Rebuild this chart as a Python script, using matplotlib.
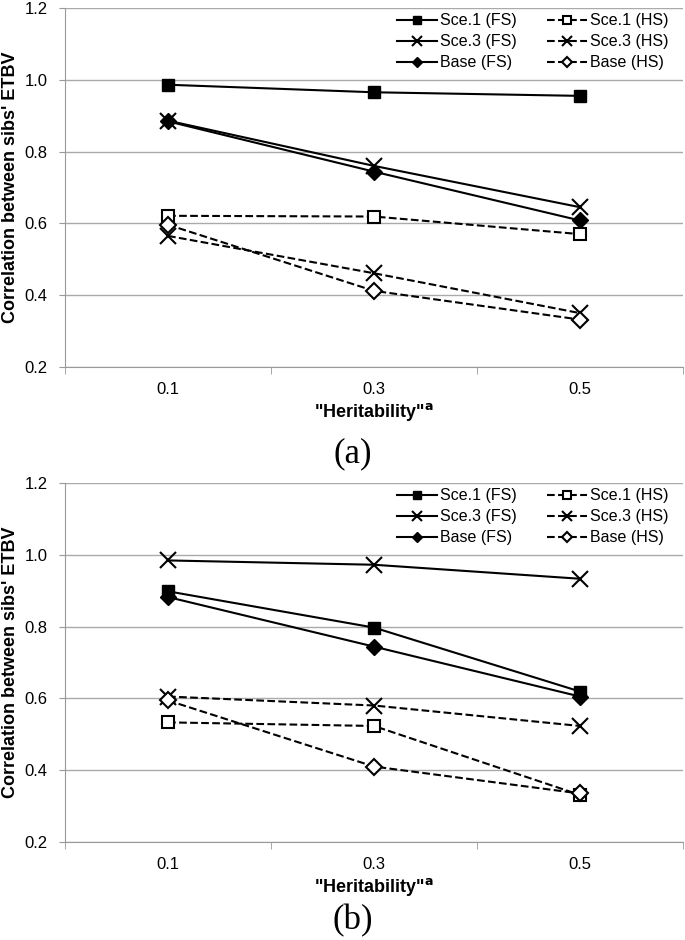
import numpy as np
import matplotlib
matplotlib.use("Agg")
import matplotlib.pyplot as plt

plt.rcParams['font.family'] = ['Liberation Sans', 'DejaVu Sans']

# heritability categories
herit = ['0.1', '0.3', '0.5']

# panel (a)
a_sce1_fs = [0.986, 0.965, 0.955]
a_sce3_fs = [0.886, 0.760, 0.645]
a_base_fs = [0.884, 0.744, 0.608]
a_sce1_hs = [0.621, 0.619, 0.570]
a_sce3_hs = [0.565, 0.461, 0.350]
a_base_hs = [0.596, 0.412, 0.332]

# panel (b)
b_sce1_fs = [0.898, 0.797, 0.619]
b_sce3_fs = [0.984, 0.972, 0.933]
b_base_fs = [0.882, 0.744, 0.605]
b_sce1_hs = [0.533, 0.523, 0.331]
b_sce3_hs = [0.605, 0.580, 0.523]
b_base_hs = [0.594, 0.410, 0.335]

labels = ['Sce.1 (FS)', 'Sce.3 (FS)', 'Base (FS)', 'Sce.1 (HS)', 'Sce.3 (HS)', 'Base (HS)']


def draw(ax, s1f, s1h, s3f, s3h, bf, bh):
    x = np.arange(len(herit))
    # legend is filled column by column, so FS series first then HS
    ax.plot(x, s1f, '-', color='black', lw=1.5, marker='s', ms=9, mfc='black', label=labels[0], zorder=3)
    ax.plot(x, s3f, '-', color='black', lw=1.5, marker='x', ms=12, mew=1.5, label=labels[1], zorder=3)
    ax.plot(x, bf, '-', color='black', lw=1.5, marker='D', ms=8, mfc='black', label=labels[2], zorder=3)
    ax.plot(x, s1h, '--', color='black', lw=1.5, marker='s', ms=9, mfc='white', mew=1.5, label=labels[3], zorder=3)
    ax.plot(x, s3h, '--', color='black', lw=1.5, marker='x', ms=12, mew=1.5, label=labels[4], zorder=3)
    ax.plot(x, bh, '--', color='black', lw=1.5, marker='D', ms=8, mfc='white', mew=1.5, label=labels[5], zorder=3)

    ax.set_xlim(-0.5, 2.5)
    ax.set_ylim(0.2, 1.2)
    yt = np.arange(0.2, 1.21, 0.2)
    ax.set_yticks(yt)
    ax.set_yticklabels(['%.1f' % v for v in yt], fontsize=12)
    ax.set_xticks(x)
    ax.set_xticklabels(herit, fontsize=12)
    ax.set_xticks([-0.5, 0.5, 1.5, 2.5], minor=True)
    ax.tick_params(axis='x', which='major', length=0, pad=11)
    ax.tick_params(axis='x', which='minor', length=5, color='#999999', direction='out')
    ax.tick_params(axis='y', length=4.5, color='#999999', pad=8)
    ax.yaxis.grid(True, color='#aaaaaa', lw=1)
    ax.set_axisbelow(True)
    for s in ['top', 'right']:
        ax.spines[s].set_visible(False)
    for s in ['left', 'bottom']:
        ax.spines[s].set_color('#999999')
    ax.set_ylabel("Correlation between sibs' ETBV", fontsize=13, fontweight='bold')
    ax.yaxis.set_label_coords(-0.074, 0.5)
    ax.set_xlabel('"Heritability"$^{\\mathbf{a}}$', fontsize=13, fontweight='bold', labelpad=3)

    h, l = ax.get_legend_handles_labels()
    ax.legend(h, l, ncol=2, loc='upper right', bbox_to_anchor=(1.0, 1.025), frameon=False,
              fontsize=11.5, markerscale=0.6, handlelength=2.5, handletextpad=0.2,
              columnspacing=1.9, labelspacing=0.38)


fig = plt.figure(figsize=(6.85, 9.4), dpi=100)
ax1 = fig.add_axes([0.095, 0.6096, 0.902, 0.382])
ax2 = fig.add_axes([0.095, 0.1043, 0.902, 0.382])

draw(ax1, a_sce1_fs, a_sce1_hs, a_sce3_fs, a_sce3_hs, a_base_fs, a_base_hs)
draw(ax2, b_sce1_fs, b_sce1_hs, b_sce3_fs, b_sce3_hs, b_base_fs, b_base_hs)

fig.text(353 / 685, 1 - 454 / 940, '(a)', fontsize=25, family='Liberation Serif', ha='center', va='center')
fig.text(353 / 685, 1 - 921 / 940, '(b)', fontsize=25, family='Liberation Serif', ha='center', va='center')

fig.savefig('out.png', dpi=100)
